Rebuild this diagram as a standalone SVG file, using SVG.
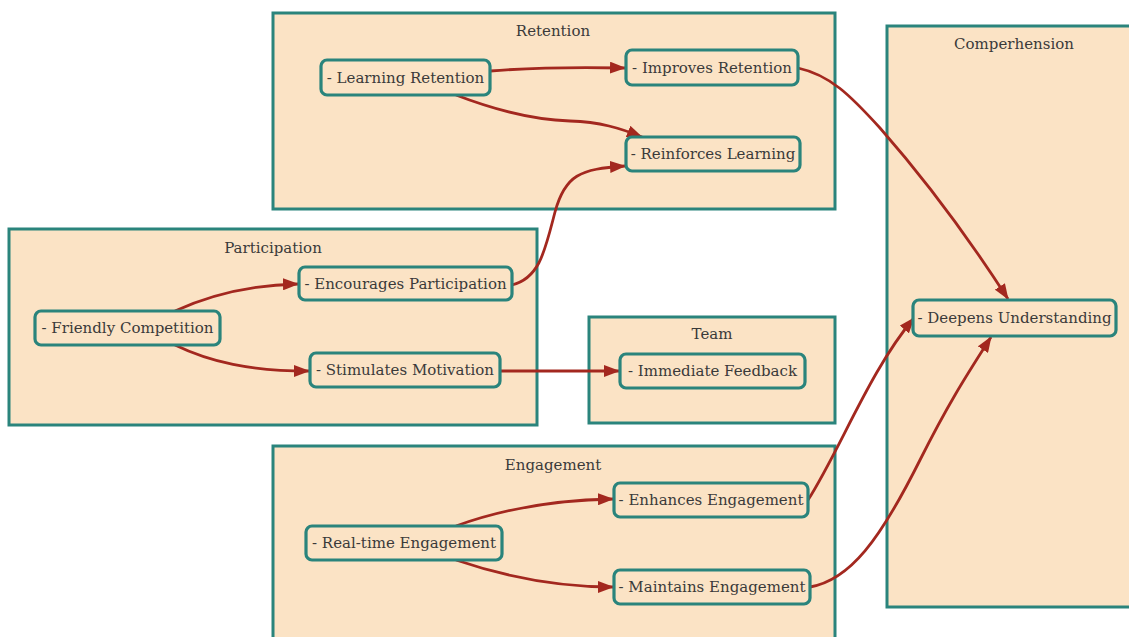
<svg xmlns="http://www.w3.org/2000/svg" width="1129" height="637" viewBox="0 0 1129 637">
<defs>
<style>
.cl{fill:#fbe3c5;stroke:#2a847c;stroke-width:3}
.nd{fill:#fbe3c5;stroke:#2a847c;stroke-width:3.2}
.t{font-family:'DejaVu Serif','Liberation Serif',serif;font-size:15px;fill:#3a3a3a;text-anchor:middle}
.e{fill:none;stroke:#a3281f;stroke-width:2.8}
</style>
<marker id="ah" viewBox="0 0 16 12" refX="15" refY="6" markerWidth="16" markerHeight="12" markerUnits="userSpaceOnUse" orient="auto">
<path d="M0,0 L16,6 L0,12 Z" fill="#a3281f"/>
</marker>
</defs>
<rect width="1129" height="637" fill="#ffffff"/>
<g id="cluster-retention"><rect class="cl" x="273" y="13" width="562" height="196"/><text class="t" x="553" y="36">Retention</text></g>
<g id="cluster-participation"><rect class="cl" x="9" y="229" width="528" height="196"/><text class="t" x="273" y="253">Participation</text></g>
<g id="cluster-team"><rect class="cl" x="589" y="317" width="246" height="106"/><text class="t" x="712" y="339">Team</text></g>
<g id="cluster-engagement"><rect class="cl" x="273" y="446" width="562" height="196"/><text class="t" x="553" y="470">Engagement</text></g>
<g id="cluster-comprehension"><rect class="cl" x="887" y="26" width="250" height="581"/><text class="t" x="1014" y="49">Comperhension</text></g>

<g id="edges">
<path class="e" marker-end="url(#ah)" d="M490,71 C540,67 580,67 625,68"/>
<path class="e" marker-end="url(#ah)" d="M456,95 C500,112 540,120 570,121 C600,122 620,128 642,137"/>
<path class="e" marker-end="url(#ah)" d="M512,285 C540,278 545,250 555,212 C565,175 580,169 625,166"/>
<path class="e" marker-end="url(#ah)" d="M175,311 C210,295 250,285 298,284"/>
<path class="e" marker-end="url(#ah)" d="M175,345 C210,362 250,371 309,371"/>
<path class="e" marker-end="url(#ah)" d="M500,371 L619,371"/>
<path class="e" marker-end="url(#ah)" d="M798,68 C830,75 850,95 880,128 C930,185 970,240 1008,299"/>
<path class="e" marker-end="url(#ah)" d="M808,500 C840,450 870,370 914,318"/>
<path class="e" marker-end="url(#ah)" d="M810,587 C850,580 880,540 920,460 C950,400 970,370 991,337"/>
<path class="e" marker-end="url(#ah)" d="M456,526 C500,510 550,500 613,499"/>
<path class="e" marker-end="url(#ah)" d="M456,560 C500,575 550,587 613,587"/>
</g>

<g id="n-learning-retention"><rect class="nd" x="321" y="60" width="169" height="35" rx="6"/><text class="t" x="405.5" y="83">- Learning Retention</text></g>
<g id="n-improves-retention"><rect class="nd" x="626" y="50" width="172" height="35" rx="6"/><text class="t" x="712" y="73">- Improves Retention</text></g>
<g id="n-reinforces-learning"><rect class="nd" x="626" y="137" width="174" height="34" rx="6"/><text class="t" x="713" y="159">- Reinforces Learning</text></g>
<g id="n-encourages-participation"><rect class="nd" x="299" y="267" width="213" height="33" rx="6"/><text class="t" x="405.5" y="289">- Encourages Participation</text></g>
<g id="n-friendly-competition"><rect class="nd" x="35" y="311" width="185" height="34" rx="6"/><text class="t" x="127.5" y="333">- Friendly Competition</text></g>
<g id="n-stimulates-motivation"><rect class="nd" x="310" y="353" width="190" height="34" rx="6"/><text class="t" x="405" y="375">- Stimulates Motivation</text></g>
<g id="n-immediate-feedback"><rect class="nd" x="620" y="354" width="185" height="34" rx="6"/><text class="t" x="712.5" y="376">- Immediate Feedback</text></g>
<g id="n-realtime-engagement"><rect class="nd" x="306" y="526" width="196" height="34" rx="6"/><text class="t" x="404" y="548">- Real-time Engagement</text></g>
<g id="n-enhances-engagement"><rect class="nd" x="614" y="483" width="194" height="34" rx="6"/><text class="t" x="711" y="505">- Enhances Engagement</text></g>
<g id="n-maintains-engagement"><rect class="nd" x="614" y="570" width="196" height="34" rx="6"/><text class="t" x="712" y="592">- Maintains Engagement</text></g>
<g id="n-deepens-understanding"><rect class="nd" x="913" y="300" width="203" height="36" rx="6"/><text class="t" x="1014.5" y="323">- Deepens Understanding</text></g>
</svg>
